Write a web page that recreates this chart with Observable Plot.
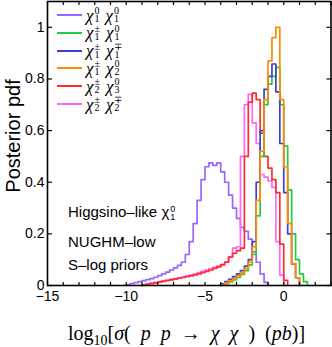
<!DOCTYPE html>
<html><head><meta charset="utf-8">
<script src="https://cdn.jsdelivr.net/npm/d3@7"></script>
<script src="https://cdn.jsdelivr.net/npm/@observablehq/plot@0.6"></script>
<style>
body{margin:0;background:#fff;}
#wrap{position:relative;width:332px;height:347px;overflow:hidden;font-family:"Liberation Sans",Arial,sans-serif;color:#000;}
#chart{position:absolute;left:0;top:0;}
.abs{position:absolute;white-space:nowrap;}
.row{position:absolute;left:57px;height:17px;display:flex;align-items:center;}
.sw{display:inline-block;width:25px;height:2px;margin-right:4px;}
.chi{font-family:"Liberation Serif","DejaVu Serif",serif;font-style:italic;font-size:17px;line-height:13px;}
.ss{display:inline-flex;flex-direction:column;font-family:"Liberation Serif",serif;font-size:10px;line-height:8px;margin-left:1px;margin-right:6px;}
.ann{font-size:15px;line-height:15px;}
.schi{font-size:15px;}
.sss{display:inline-flex;flex-direction:column;font-size:9px;line-height:8px;vertical-align:middle;margin-left:1px;}
#xlab{font-family:"Liberation Serif","DejaVu Serif",serif;font-size:20px;line-height:20px;word-spacing:5px;}
#xlab i{font-style:italic;}
#xlab sub{font-size:14px;vertical-align:-5px;line-height:0;}
#ylab{font-size:20px;line-height:20px;}
</style></head><body>
<div id="wrap"><div id="chart"></div></div>
<script>
// bin width of the step histograms
const binWidth = 0.25;
const seriesNames = ["chi10chi10", "chi1pmchi10", "chi1pmchi1mp", "chi1pmchi20", "chi2pmchi30", "chi2pmchi2mp"];
const seriesColors = ["#9966ff", "#22cc3a", "#4040cc", "#ff8c00", "#ff2d2d", "#ff66ff"];
// legend labels: [subscript, superscript] of each chi
const legendLabels = [
  [["1","0"],["1","0"]],
  [["1","±"],["1","0"]],
  [["1","±"],["1","∓"]],
  [["1","±"],["2","0"]],
  [["2","±"],["3","0"]],
  [["2","±"],["2","∓"]]
];
const seriesStarts = [-10, -4, -4, -4, -9, -9];
const purpleVals = [0.003,0.007,0.011,0.015,0.019,0.023,0.027,0.032,0.038,0.045,0.052,0.06,0.068,0.078,0.09,0.12,0.17,0.24,0.33,0.41,0.46,0.475,0.465,0.475,0.44,0.40,0.35,0.30,0.26,0.225,0.21,0.18,0.13,0.09,0.045,0.012];
const greenVals = [0.002,0.007,0.014,0.022,0.031,0.043,0.058,0.08,0.12,0.27,0.50,0.70,0.78,0.81,0.845,0.70,0.54,0.37,0.20,0.10,0.045,0.015];
const blueVals = [0.006,0.015,0.024,0.034,0.045,0.058,0.075,0.10,0.17,0.40,0.60,0.76,0.81,0.858,0.75,0.55,0.36,0.20,0.084,0.03];
const orangeVals = [0.003,0.01,0.018,0.027,0.037,0.05,0.066,0.09,0.15,0.33,0.52,0.72,0.87,0.96,1.0,0.72,0.46,0.24,0.085,0.03];
const redVals = [0.002,0.004,0.007,0.01,0.013,0.016,0.019,0.022,0.025,0.028,0.031,0.034,0.037,0.041,0.045,0.05,0.055,0.06,0.066,0.072,0.08,0.09,0.11,0.125,0.135,0.145,0.50,0.71,0.745,0.72,0.59,0.50,0.455,0.41,0.36,0.16,0.02];
const magentaVals = [0.003,0.006,0.009,0.012,0.015,0.018,0.021,0.024,0.027,0.03,0.033,0.036,0.04,0.044,0.05,0.055,0.06,0.065,0.07,0.075,0.082,0.092,0.11,0.145,0.15,0.50,0.70,0.74,0.63,0.55,0.43,0.42,0.405,0.38,0.17,0.04];
const seriesVals = [purpleVals, greenVals, blueVals, orangeVals, redVals, magentaVals];
const xTickLabels = [-15, -10, -5, 0];
const xMinorTicks = d3.range(-15, 4, 1);
const yTicks = [0, 0.2, 0.4, 0.6, 0.8, 1];
const annotations = ["Higgsino–like", "NUGHM–low", "S–log priors"];

function steps(start, vals, w) {
  const pts = [{x: start, y: 0}];
  vals.forEach((v, i) => pts.push({x: start + i * w, y: v}));
  pts.push({x: start + vals.length * w, y: 0});
  return pts;
}
const drawOrder = [0, 5, 4, 1, 2, 3];
const lineMarks = drawOrder.map(i => Plot.line(steps(seriesStarts[i], seriesVals[i], binWidth),
  {x: "x", y: "y", curve: "step-after", stroke: seriesColors[i], strokeWidth: 1.7}));

const fmtY = d => d === 0 ? "0" : d === 1 ? "1" : d.toFixed(1);
const chart = Plot.plot({
  width: 332, height: 305,
  marginLeft: 47, marginRight: 1.5, marginTop: 1, marginBottom: 20,
  style: {fontFamily: "Liberation Sans, Arial, sans-serif", fontSize: "14px", background: "white"},
  x: {domain: [-15, 3], label: null},
  y: {domain: [0, 1.1], label: null},
  marks: [
    ...lineMarks,
    Plot.axisX(xMinorTicks, {anchor: "bottom", tickSize: -3, tickFormat: () => "", strokeWidth: 1.2, label: null}),
    Plot.axisX(xMinorTicks, {anchor: "top", tickSize: -3, tickFormat: () => "", strokeWidth: 1.2, label: null}),
    Plot.axisX(xTickLabels, {anchor: "bottom", tickSize: 0, tickPadding: 6, fontSize: 14, label: null}),
    Plot.axisY(yTicks, {anchor: "left", tickSize: -5, tickFormat: () => "", strokeWidth: 1.2, label: null}),
    Plot.axisY(yTicks, {anchor: "right", tickSize: -5, tickFormat: () => "", strokeWidth: 1.2, label: null}),
    Plot.axisY(yTicks, {anchor: "left", tickSize: 0, tickPadding: 3, tickFormat: fmtY, fontSize: 14, label: null}),
    Plot.frame({stroke: "black", strokeWidth: 1.6})
  ]
});
const wrap = document.getElementById("wrap");
document.getElementById("chart").appendChild(chart);

// legend
const rowCenters0 = 15, rowStep = 17.8;
function chi(sub, sup) { return `<span class="chi">χ</span><span class="ss"><span>${sup}</span><span>${sub}</span></span>`; }
legendLabels.forEach((lab, i) => {
  const r = document.createElement("div");
  r.className = "row";
  r.style.top = (rowCenters0 + i * rowStep - 8.5) + "px";
  r.innerHTML = `<span class="sw" style="background:${seriesColors[i]}"></span>` + chi(lab[0][0], lab[0][1]) + chi(lab[1][0], lab[1][1]);
  wrap.appendChild(r);
});

// annotations
const annTops = [204, 234, 256.5];
annotations.forEach((t, i) => {
  const d = document.createElement("div");
  d.className = "abs ann";
  d.style.left = "68px";
  d.style.top = annTops[i] + "px";
  d.innerHTML = i === 0 ? `${t} <span class="schi">χ</span><span class="sss"><span>0</span><span>1</span></span>` : t;
  wrap.appendChild(d);
});

// axis titles
const xl = document.createElement("div");
xl.id = "xlab"; xl.className = "abs";
xl.style.left = "68px"; xl.style.top = "323px";
xl.innerHTML = `log<sub>10</sub>[<i>σ</i>( <i>p</i> <i>p</i> → <i>χ</i> <i>χ</i> ) (<i>pb</i>)]`;
wrap.appendChild(xl);
const yl = document.createElement("div");
yl.id = "ylab"; yl.className = "abs";
yl.style.left = "13px"; yl.style.top = "136px";
yl.style.transform = "translate(-50%,-50%) rotate(-90deg)";
yl.textContent = "Posterior pdf";
wrap.appendChild(yl);
</script></body></html>
